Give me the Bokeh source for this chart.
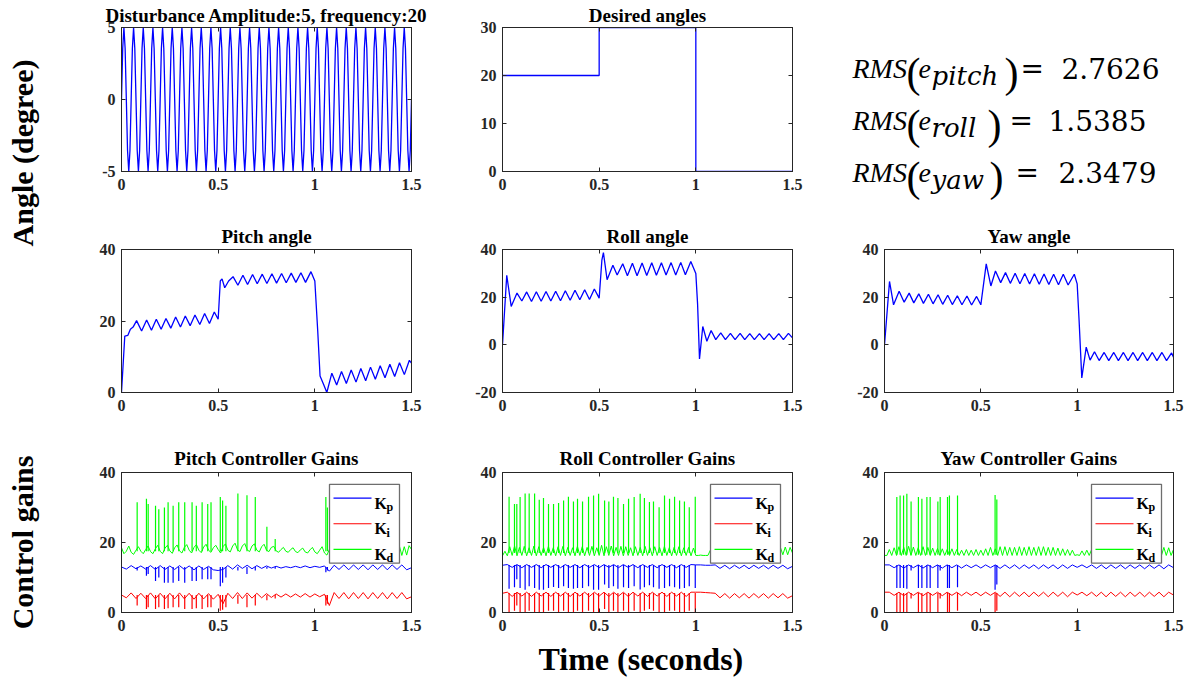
import numpy as np
from bokeh.plotting import figure
from bokeh.models import Range1d, FixedTicker, LinearAxis, Title, Label
from bokeh.layouts import row, column
from bokeh.embed import file_html
from bokeh.resources import INLINE
from bokeh.core.properties import value

FONT = "Liberation Serif"
AXC = "#262626"

# ---------------------------------------------------------------- data
x_ticks = [0, 0.5, 1, 1.5]
x_tick_labels = ["0", "0.5", "1", "1.5"]

# disturbance (amplitude 5, 20 Hz), sampled every 1/160 s
dist_step = 0.00625
dist_vals = [
    0, 3.54, 5, 3.54, 0, -3.54, -5, -3.54,
    0, 3.54, 5, 3.54, 0, -3.54, -5, -3.54,
    0, 3.54, 5, 3.54, 0, -3.54, -5, -3.54,
    0, 3.54, 5, 3.54, 0, -3.54, -5, -3.54,
    0, 3.54, 5, 3.54, 0, -3.54, -5, -3.54,
    0, 3.54, 5, 3.54, 0, -3.54, -5, -3.54,
    0, 3.54, 5, 3.54, 0, -3.54, -5, -3.54,
    0, 3.54, 5, 3.54, 0, -3.54, -5, -3.54,
    0, 3.54, 5, 3.54, 0, -3.54, -5, -3.54,
    0, 3.54, 5, 3.54, 0, -3.54, -5, -3.54,
    0, 3.54, 5, 3.54, 0, -3.54, -5, -3.54,
    0, 3.54, 5, 3.54, 0, -3.54, -5, -3.54,
    0, 3.54, 5, 3.54, 0, -3.54, -5, -3.54,
    0, 3.54, 5, 3.54, 0, -3.54, -5, -3.54,
    0, 3.54, 5, 3.54, 0, -3.54, -5, -3.54,
    0, 3.54, 5, 3.54, 0, -3.54, -5, -3.54,
    0, 3.54, 5, 3.54, 0, -3.54, -5, -3.54,
    0, 3.54, 5, 3.54, 0, -3.54, -5, -3.54,
    0, 3.54, 5, 3.54, 0, -3.54, -5, -3.54,
    0, 3.54, 5, 3.54, 0, -3.54, -5, -3.54,
    0, 3.54, 5, 3.54, 0, -3.54, -5, -3.54,
    0, 3.54, 5, 3.54, 0, -3.54, -5, -3.54,
    0, 3.54, 5, 3.54, 0, -3.54, -5, -3.54,
    0, 3.54, 5, 3.54, 0, -3.54, -5, -3.54,
    0, 3.54, 5, 3.54, 0, -3.54, -5, -3.54,
    0, 3.54, 5, 3.54, 0, -3.54, -5, -3.54,
    0, 3.54, 5, 3.54, 0, -3.54, -5, -3.54,
    0, 3.54, 5, 3.54, 0, -3.54, -5, -3.54,
    0, 3.54, 5, 3.54, 0, -3.54, -5, -3.54,
    0, 3.54, 5, 3.54, 0, -3.54, -5, -3.54,
    0]
dist_ticks = [-5, 0, 5]
dist_tick_labels = ["-5", "0", "5"]

# desired angles (step)
des_t = [0, 0.5, 1.0, 1.5]
des_v = [20, 30, 0, 0]
des_ticks = [0, 10, 20, 30]
des_tick_labels = ["0", "10", "20", "30"]

# pitch angle (peaks / troughs)
pitch_t = [0, 0.017, 0.033, 0.046, 0.06, 0.078, 0.104, 0.13, 0.155, 0.18, 0.205,
           0.23, 0.255, 0.28, 0.305, 0.33, 0.355, 0.38, 0.405, 0.43, 0.455, 0.48,
           0.5, 0.511, 0.52, 0.534, 0.554, 0.577, 0.602, 0.628, 0.652, 0.678, 0.702,
           0.728, 0.752, 0.778, 0.802, 0.828, 0.852, 0.878, 0.902, 0.928, 0.952,
           0.98, 1.0, 1.015, 1.027, 1.045, 1.062, 1.088, 1.113, 1.138, 1.163, 1.188,
           1.213, 1.238, 1.263, 1.288, 1.313, 1.338, 1.363, 1.388, 1.413, 1.438,
           1.463, 1.489, 1.5]
pitch_v = [0, 15.8, 16.0, 17.7, 18.3, 20.1, 17.2, 20.3, 17.4, 20.5, 17.7,
           20.7, 18.0, 21.1, 18.3, 21.4, 18.7, 21.7, 19.0, 22.1, 19.3, 22.5,
           20.5, 31.2, 31.8, 29.3, 31.2, 32.4, 30.0, 32.8, 30.2, 33.0, 30.4,
           33.1, 30.5, 33.2, 30.6, 33.3, 30.7, 33.4, 30.8, 33.5, 30.8,
           33.8, 31.2, 17.2, 4.6, 2.3, 0.0, 5.4, 2.1, 5.9, 2.5, 6.3,
           2.9, 6.7, 3.3, 7.1, 3.7, 7.5, 4.1, 7.9, 4.5, 8.3,
           5.0, 9.0, 8.2]
pitch_ticks = [0, 20, 40]
pitch_tick_labels = ["0", "20", "40"]

roll_t = [0, 0.022, 0.045, 0.075, 0.1, 0.125, 0.15, 0.175, 0.2, 0.225, 0.25, 0.275,
          0.3, 0.325, 0.35, 0.375, 0.4, 0.425, 0.45, 0.475, 0.5, 0.514, 0.522, 0.541,
          0.571, 0.593, 0.622, 0.646, 0.672, 0.696, 0.722, 0.746, 0.772, 0.796, 0.822,
          0.846, 0.872, 0.896, 0.922, 0.946, 0.974, 1.0, 1.009, 1.019, 1.036, 1.057,
          1.079, 1.103, 1.129, 1.153, 1.179, 1.203, 1.229, 1.253, 1.279, 1.303, 1.329,
          1.353, 1.379, 1.403, 1.429, 1.453, 1.479, 1.5]
roll_v = [0, 29.2, 16.1, 21.7, 18.4, 22.2, 18.2, 22.3, 18.3, 22.4, 18.4, 22.5,
          18.5, 22.7, 18.7, 22.9, 18.9, 23.1, 19.0, 23.4, 19.6, 35.5, 38.7, 27.3,
          33.4, 29.3, 34.0, 29.0, 34.2, 29.0, 34.3, 29.1, 34.4, 29.2, 34.4,
          29.3, 34.5, 29.3, 34.6, 29.4, 35.0, 29.9, 17.2, -5.9, 7.7, 1.5,
          6.0, 2.2, 5.0, 2.2, 4.8, 2.2, 4.8, 2.2, 4.7, 2.2, 4.7,
          2.2, 4.7, 2.2, 4.7, 2.2, 4.8, 2.9]

yaw_t = [0, 0.026, 0.047, 0.076, 0.102, 0.128, 0.152, 0.178, 0.202, 0.228, 0.252,
         0.278, 0.302, 0.328, 0.352, 0.378, 0.402, 0.428, 0.452, 0.478, 0.5, 0.528,
         0.552, 0.576, 0.603, 0.628, 0.653, 0.678, 0.703, 0.728, 0.753, 0.778, 0.803,
         0.828, 0.853, 0.878, 0.903, 0.928, 0.953, 0.985, 1.0, 1.01, 1.024, 1.047,
         1.067, 1.09, 1.114, 1.14, 1.164, 1.19, 1.214, 1.24, 1.264, 1.29, 1.314,
         1.34, 1.364, 1.39, 1.414, 1.44, 1.464, 1.49, 1.5]
yaw_v = [0, 26.6, 16.8, 22.5, 17.9, 21.7, 17.6, 21.4, 17.4, 21.2, 17.2,
         21.0, 17.0, 20.8, 16.9, 20.6, 16.8, 20.5, 16.7, 20.3, 16.8, 34.0,
         24.7, 31.0, 26.1, 30.3, 25.8, 30.0, 25.6, 29.9, 25.5, 29.8, 25.4,
         29.7, 25.3, 29.6, 25.2, 29.6, 25.1, 29.6, 25.6, 10.2, -13.9, -1.0,
         -6.4, -2.9, -6.6, -3.2, -6.6, -3.2, -6.6, -3.2, -6.6, -3.2, -6.6,
         -3.2, -6.6, -3.2, -6.6, -3.2, -6.6, -3.4, -5.2]
ry_ticks = [-20, 0, 20, 40]
ry_tick_labels = ["-20", "0", "20", "40"]

# controller gains: baselines (Kd every 0.0125 s, Kp/Ki every 0.025 s) + spikes
kd_step = 0.0125
kpi_step = 0.025
gain_ticks = [0, 20, 40]
gain_tick_labels = ["0", "20", "40"]

pitch_kd = [18.5, 16.8, 17.5, 19.0, 17.2, 16.6, 17.8, 18.8,
            17.5, 16.8, 18.0, 19.0, 17.4, 16.8, 18.2, 19.2,
            17.5, 16.8, 18.4, 19.2, 17.6, 16.9, 18.5, 19.3,
            17.6, 17.0, 18.6, 19.4, 17.8, 17.0, 18.6, 19.4,
            17.8, 17.1, 18.7, 19.5, 17.8, 17.2, 18.5, 19.2,
            18.0, 17.0, 18.8, 19.6, 17.8, 17.3, 19.0, 19.8,
            17.9, 17.4, 19.0, 19.7, 17.9, 17.4, 19.0, 19.6,
            17.8, 17.3, 18.8, 19.5, 17.8, 17.4, 18.6, 18.9,
            17.6, 17.2, 18.0, 18.6, 17.5, 17.2, 18.0, 18.5,
            17.4, 17.1, 17.9, 18.4, 17.3, 17.0, 17.9, 18.6,
            17.3, 16.8, 17.8, 18.8, 17.0, 16.4, 18.0, 19.0,
            16.3, 18.9, 16.4, 19.0, 16.3, 18.8, 16.4, 19.1,
            16.3, 18.9, 16.4, 19.0, 16.3, 18.8, 16.4, 19.1,
            16.3, 18.9, 16.4, 19.0, 16.3, 18.8, 16.4, 19.1,
            16.3, 18.9, 16.4, 19.0, 16.3, 18.8, 16.4, 19.1,
            18.0]
pitch_kp = [13.0, 12.4, 13.4, 12.5, 13.3, 12.4, 13.4, 12.3, 13.4, 12.3,
            13.3, 12.3, 13.4, 12.3, 13.3, 12.2, 13.3, 12.3, 13.2, 12.2,
            12.0, 12.3, 13.4, 12.4, 13.6, 12.6, 13.5, 12.5, 13.4, 12.6,
            13.3, 12.7, 13.2, 12.7, 13.1, 12.8, 13.2, 12.8, 13.3, 12.8,
            13.2, 12.9, 13.3, 11.8, 13.5, 12.3, 13.6, 12.2, 13.6, 12.3,
            13.6, 12.2, 13.6, 12.3, 13.6, 12.2, 13.6, 12.3, 13.6, 12.2,
            12.8]
pitch_ki = [5.0, 4.2, 5.6, 4.0, 5.5, 4.0, 5.6, 3.9, 5.5, 3.9,
            5.5, 3.9, 5.6, 3.9, 5.5, 3.8, 5.5, 3.9, 5.4, 3.8,
            5.2, 2.5, 5.5, 4.0, 5.7, 4.0, 5.6, 4.1, 5.5, 4.2,
            5.4, 4.3, 5.3, 4.4, 5.3, 4.4, 5.3, 4.4, 5.4, 4.4,
            5.3, 4.5, 5.2, 2.0, 5.7, 4.0, 5.7, 3.9, 5.7, 4.0,
            5.7, 3.9, 5.7, 4.0, 5.7, 3.9, 5.7, 4.0, 5.7, 3.9,
            4.5]
pitch_spike_t = [0.081, 0.129, 0.138, 0.176, 0.193, 0.222, 0.241, 0.267, 0.296,
                 0.327, 0.365, 0.387, 0.417, 0.446, 0.463, 0.511, 0.523, 0.540,
                 0.602, 0.649, 0.692, 0.752, 0.795, 1.057, 1.065]
pitch_kd_peak = [31.5, 32.5, 31, 30.5, 29.5, 30, 31.5, 30.5, 31.5,
                 31.5, 31.5, 30.5, 31.5, 31, 31.5, 33, 32, 30.5,
                 34, 33.5, 33, 24.5, 21, 33, 30]
pitch_kp_dip = [12, 10.5, 11, 9, 10, 8.5, 8.5, 8.5, 9,
                8.5, 9, 9, 9.5, 9.5, 9.5, 7.5, 8.5, 10,
                12, 11, 12, 12.5, 12.5, 11.5, 12]
pitch_ki_dip = [2, 1, 1.5, 1, 1.5, 1, 1.2, 1.5, 1.5,
                1, 1, 1.2, 1, 1.5, 1.5, 0.5, 0.8, 1.5,
                2.5, 1.5, 2, 3.5, 4, 2, 2.5]
pitch_gain_levels = [17.5, 13.0, 5.0]   # Kd, Kp, Ki levels the spikes leave from

roll_kd = [16.2, 17.5, 16.2, 18.8, 16.3, 19.0, 16.2, 18.6,
           16.3, 18.9, 16.2, 18.5, 16.3, 19.0, 16.2, 18.8,
           16.3, 18.6, 16.2, 18.9, 16.3, 18.5, 16.2, 18.8,
           16.3, 18.9, 16.2, 18.6, 16.3, 18.5, 16.2, 18.9,
           16.3, 18.8, 16.2, 18.6, 16.3, 18.9, 16.2, 18.5,
           16.3, 19.2, 16.2, 18.8, 16.3, 19.0, 16.2, 18.6,
           16.3, 18.9, 16.2, 18.8, 16.3, 18.5, 16.2, 18.8,
           16.3, 18.6, 16.2, 18.9, 16.3, 18.5, 16.2, 18.8,
           16.3, 18.6, 16.2, 18.9, 16.3, 18.5, 16.2, 18.6,
           16.3, 18.8, 16.2, 18.5, 16.3, 18.6, 16.2, 18.4,
           16.3, 16.3, 16.4, 16.3, 16.3, 16.3, 17.8, 16.4,
           16.5, 18.3, 16.4, 18.5, 16.5, 18.4, 16.5, 18.6,
           16.5, 18.5, 16.4, 18.6, 16.5, 18.4, 16.5, 18.6,
           16.5, 18.5, 16.4, 18.6, 16.5, 18.4, 16.5, 18.6,
           16.5, 18.5, 16.4, 18.6, 16.5, 18.7, 16.5, 18.6,
           17.0]
roll_kp = [13.5, 13.7, 12.9, 13.7, 12.8, 13.7, 12.9, 13.7, 12.8, 13.7,
           12.9, 13.7, 12.8, 13.7, 12.9, 13.7, 12.8, 13.7, 12.9, 13.7,
           12.8, 13.7, 12.9, 13.7, 12.8, 13.7, 12.9, 13.7, 12.8, 13.7,
           12.9, 13.7, 12.8, 13.7, 12.9, 13.7, 12.8, 13.7, 12.9, 13.7,
           13.6, 13.6, 13.5, 13.5, 13.6, 12.6, 13.5, 12.5, 13.5, 12.6,
           13.5, 12.5, 13.5, 12.6, 13.5, 12.5, 13.5, 12.6, 13.5, 12.5,
           13.2]
roll_ki = [5.5, 5.8, 4.6, 5.8, 4.7, 5.8, 4.6, 5.8, 4.7, 5.8,
           4.6, 5.8, 4.7, 5.8, 4.6, 5.8, 4.7, 5.8, 4.6, 5.8,
           4.7, 5.8, 4.6, 5.8, 4.7, 5.8, 4.6, 5.8, 4.7, 5.8,
           4.6, 5.8, 4.7, 5.8, 4.6, 5.8, 4.7, 5.8, 4.6, 5.8,
           5.8, 5.8, 5.7, 5.6, 5.5, 4.2, 5.4, 4.1, 5.4, 4.2,
           5.4, 4.1, 5.4, 4.2, 5.4, 4.1, 5.4, 4.2, 5.4, 4.1,
           4.8]
roll_spike_t = [0.034, 0.062, 0.074, 0.091, 0.117, 0.138, 0.166, 0.19, 0.212, 0.238,
                0.264, 0.29, 0.316, 0.341, 0.367, 0.388, 0.414, 0.445, 0.471, 0.497,
                0.528, 0.55, 0.574, 0.597, 0.626, 0.652, 0.681, 0.712, 0.734, 0.76,
                0.781, 0.81, 0.838, 0.864, 0.89, 0.916, 0.941, 0.966, 0.997]
roll_kd_peak = [33.1, 31, 31, 33, 34, 34, 34, 32.2, 32.7, 31,
                31, 31.3, 32, 33.1, 31.7, 32.5, 31.7, 33.1, 33.4, 33.9,
                32, 31.7, 33.1, 32.7, 31, 32.5, 33, 33.9, 32.7, 31.6,
                31.7, 30.1, 33.4, 32.5, 33.1, 32, 31.7, 30.1, 33.1]
roll_kp_dip = [6.8, 7.2, 9.5, 7, 6.5, 7.5, 7, 6.5, 6.5, 7,
               7.3, 7, 7.5, 7, 6.8, 7, 7, 7.5, 6.5, 6.5,
               8, 7, 7.5, 6.8, 7.2, 7, 7.5, 6.6, 7.2, 7.8,
               7.2, 6.8, 7, 7.5, 7.2, 6.8, 7, 7.5, 7]
roll_ki_dip = [0, 0.5, 2, 0, 0, 0.5, 0, 0, 0, 0.5,
               0.5, 0, 0.5, 0, 0, 0.5, 0, 0.5, 0, 0,
               1, 0, 0.5, 0, 0.5, 0, 0.5, 0, 0.5, 1,
               0.5, 0, 0, 0.5, 0.5, 0, 0, 0.5, 0]
roll_gain_levels = [17.0, 13.6, 5.6]

yaw_kd = [16.3, 16.3, 18.0, 16.3, 18.5, 16.3, 18.8, 16.3,
          18.6, 16.3, 18.9, 16.3, 18.7, 16.3, 18.5, 16.3,
          18.8, 16.3, 18.6, 16.3, 18.4, 16.3, 18.3, 16.3,
          18.2, 16.3, 18.0, 16.3, 18.2, 16.3, 18.0, 16.3,
          17.8, 16.3, 18.0, 16.3, 17.8, 16.3, 18.0, 16.3,
          17.8, 16.3, 18.2, 16.3, 18.6, 16.3, 18.2, 16.3,
          18.8, 16.3, 18.8, 16.3, 18.6, 16.3, 18.6, 16.3,
          18.8, 16.3, 18.6, 16.3, 18.8, 16.3, 18.6, 16.3,
          18.8, 16.3, 18.8, 16.3, 18.6, 16.3, 18.6, 16.3,
          18.4, 16.3, 18.2, 16.3, 18.0, 16.3, 17.8, 16.3,
          16.5, 16.3, 17.6, 16.3, 17.8, 16.3, 18.0, 16.3,
          18.3, 16.3, 18.4, 16.3, 18.5, 16.3, 18.5, 16.3,
          18.6, 16.3, 18.6, 16.3, 18.5, 16.3, 18.5, 16.3,
          18.6, 16.3, 18.5, 16.3, 18.6, 16.3, 18.5, 16.3,
          18.6, 16.3, 18.6, 16.3, 18.6, 16.3, 18.5, 16.3,
          18.0]
yaw_kp = [13.6, 13.6, 12.8, 13.6, 12.7, 13.6, 12.8, 13.6, 12.7, 13.6,
          12.8, 13.6, 12.7, 13.6, 12.8, 13.6, 12.7, 13.6, 12.8, 13.6,
          12.7, 13.6, 12.8, 13.6, 12.6, 13.6, 12.6, 13.6, 12.5, 13.6,
          12.6, 13.6, 12.5, 13.6, 12.6, 13.6, 12.5, 13.6, 12.6, 13.6,
          12.9, 13.6, 12.8, 13.6, 12.6, 13.6, 12.5, 13.6, 12.6, 13.6,
          12.5, 13.6, 12.6, 13.6, 12.5, 13.6, 12.6, 13.6, 12.5, 13.6,
          12.8]
yaw_ki = [5.8, 5.8, 4.9, 5.8, 4.8, 5.8, 4.9, 5.8, 4.8, 5.8,
          4.9, 5.8, 4.8, 5.8, 4.9, 5.8, 4.8, 5.8, 4.9, 5.8,
          4.8, 5.8, 4.9, 5.8, 4.6, 5.8, 4.5, 5.8, 4.6, 5.8,
          4.5, 5.8, 4.6, 5.8, 4.5, 5.8, 4.6, 5.8, 4.5, 5.8,
          5.0, 5.8, 4.8, 5.8, 4.6, 5.8, 4.5, 5.8, 4.6, 5.8,
          4.5, 5.8, 4.6, 5.8, 4.5, 5.8, 4.6, 5.8, 4.5, 5.8,
          5.0]
yaw_spike_t = [0.064, 0.081, 0.099, 0.116, 0.138, 0.176, 0.194, 0.22, 0.237,
               0.277, 0.289, 0.327, 0.337, 0.379, 0.574, 0.583]
yaw_kd_peak = [33, 33.4, 33.4, 33.9, 31.7, 33, 32.5, 33, 33,
               31.7, 33, 33, 33.4, 33.4, 33.6, 32.3]
yaw_kp_dip = [7, 7, 7, 6.8, 12, 7, 7, 7, 7, 7, 12, 7, 7, 7.2, 6.5, 8]
yaw_ki_dip = [0, 0, 0, 0, 4, 0, 0, 0, 0, 0, 4, 0, 0, 0.5, 0, 0.5]
yaw_gain_levels = [16.5, 13.6, 5.6]

rms_names = ["pitch", "roll", "yaw"]
rms_values = ["2.7626", "1.5385", "2.3479"]

# ---------------------------------------------------------------- helpers
def mirror_axis(ticks):
    return LinearAxis(ticker=FixedTicker(ticks=ticks),
                      major_label_overrides={t: "" for t in ticks},
                      major_label_text_font_size="1px", major_label_standoff=0,
                      major_tick_in=4, major_tick_out=0, minor_tick_in=0,
                      minor_tick_out=0, axis_line_color=AXC, major_tick_line_color=AXC)


def panel(w, h, bl, br, bt, bb, yr, yticks, ylabels, title, title_standoff, tsize="19px"):
    p = figure(width=w, height=h, x_range=Range1d(0, 1.5), y_range=Range1d(*yr),
               output_backend="svg", toolbar_location=None, title=title,
               min_border_left=bl, min_border_right=br,
               min_border_top=bt, min_border_bottom=bb)
    p.grid.visible = False
    p.outline_line_color = AXC
    p.outline_line_width = 1
    p.title.text_font = FONT
    p.title.text_font_size = tsize
    p.title.text_font_style = "bold"
    p.title.text_color = "black"
    p.title.align = "center"
    p.title.standoff = title_standoff
    p.xaxis.ticker = FixedTicker(ticks=x_ticks)
    p.xaxis.major_label_overrides = dict(zip(x_ticks, x_tick_labels))
    p.yaxis.ticker = FixedTicker(ticks=yticks)
    p.yaxis.major_label_overrides = dict(zip(yticks, ylabels))
    for ax in (p.xaxis[0], p.yaxis[0]):
        ax.major_label_text_font = FONT
        ax.major_label_text_font_size = "16px"
        ax.major_label_text_font_style = "bold"
        ax.major_label_text_color = AXC
        ax.major_tick_in = 4
        ax.major_tick_out = 0
        ax.minor_tick_in = 0
        ax.minor_tick_out = 0
        ax.axis_line_color = AXC
        ax.major_tick_line_color = AXC
    p.xaxis[0].major_label_standoff = 7
    p.yaxis[0].major_label_standoff = 6
    p.add_layout(mirror_axis(x_ticks), "above")
    p.add_layout(mirror_axis(yticks), "right")
    return p


def blank(w, h, xr, yr):
    p = figure(width=w, height=h, x_range=Range1d(*xr), y_range=Range1d(*yr),
               x_axis_type=None, y_axis_type=None,
               output_backend="svg", toolbar_location=None, min_border=0)
    p.title.visible = False
    p.grid.visible = False
    p.outline_line_color = None
    return p


H1, H2, H3 = 221, 221, 244


def gains_panel(w, bl, br, title, kd, kp, ki, spike_t, kd_peak, kp_dip, ki_dip, levels):
    bt, bb = 28, 74
    p = panel(w, H3, bl, br, bt, bb, (0, 40), gain_ticks, gain_tick_labels, title, 7)
    fw = w - bl - br
    fh = H3 - bt - bb
    t_kd = np.arange(len(kd)) * kd_step
    t_kpi = np.arange(len(kp)) * kpi_step
    n = len(spike_t)
    p.line(t_kpi, kp, line_color="#0000ff", line_width=1.0)
    p.segment(x0=spike_t, y0=[levels[1]] * n, x1=spike_t, y1=kp_dip,
              line_color="#0000ff", line_width=1.2)
    p.line(t_kpi, ki, line_color="#ff0000", line_width=1.0)
    p.segment(x0=spike_t, y0=[levels[2]] * n, x1=spike_t, y1=ki_dip,
              line_color="#ff0000", line_width=1.2)
    p.line(t_kd, kd, line_color="#00ff00", line_width=1.0)
    p.segment(x0=spike_t, y0=[levels[0]] * n, x1=spike_t, y1=kd_peak,
              line_color="#00ff00", line_width=1.2)

    # legend (positions in frame pixels converted to data units)
    def dx(px):
        return px * 1.5 / fw

    def dy(py):
        return 40 - py * 40.0 / fh

    bl_px = fw - 12 - 70
    p.quad(left=[dx(bl_px)], right=[dx(bl_px + 70)], top=[dy(12)], bottom=[dy(92)],
           fill_color="white", line_color="#6e6e6e", line_width=1.3)
    names = ["p", "i", "d"]
    colors = ["#0000ff", "#ff0000", "#00ff00"]
    rows_px = [26, 52, 78]
    for nm, c, ry in zip(names, colors, rows_px):
        p.line([dx(bl_px + 4), dx(bl_px + 42)], [dy(ry), dy(ry)], line_color=c, line_width=1.2)
        p.text(x=[dx(bl_px + 45)], y=[dy(ry + 5)], text=["K"], text_font=value(FONT),
               text_font_size="16px", text_font_style="bold", text_color="black",
               text_baseline="alphabetic", text_align="left")
        p.text(x=[dx(bl_px + 57)], y=[dy(ry + 9)], text=[nm], text_font=value(FONT),
               text_font_size="12px", text_font_style="bold", text_color="black",
               text_baseline="alphabetic", text_align="left")
    return p


# ---------------------------------------------------------------- row 1
W1, W3 = 381, 357
p_dist = panel(W1, H1, 53, 38, 27, 50, (-5, 5), dist_ticks, dist_tick_labels,
               "Disturbance Amplitude:5, frequency:20", 3, "19px")
p_dist.line(np.arange(len(dist_vals)) * dist_step, dist_vals, line_color="#0000ff", line_width=1.3)

p_des = panel(W1, H1, 53, 38, 27, 50, (0, 30), des_ticks, des_tick_labels,
              "Desired angles", 3)
p_des.step(des_t, des_v, mode="after", line_color="#0000ff", line_width=1.3)

# RMS text block (wrapped in its own column so that its frame is the full figure);
# ranges are in page pixels: x 830..1187, y 221 at bottom, 0 at top
p_rms = blank(W3, H1, (830, 830 + W3), (H1, 0))
rms_base = [68, 120, 172]                 # baselines (page y)
close_px = [1004, 987, 989]
eq_px = [1020, 1009, 1015]
num_px = [1061, 1048, 1058]


def rms_label(x, y, txt, font, size, style="normal"):
    p_rms.add_layout(Label(x=x, y=y, text=txt, text_font=font, text_font_size=size,
                           text_font_style=style, text_color="black",
                           text_baseline="alphabetic", text_align="left"))


for i, (name, val) in enumerate(zip(rms_names, rms_values)):
    by = rms_base[i]
    rms_label(852, by, "RMS", FONT, "28px", "italic")
    rms_label(906, by + 4, "(", FONT, "42px")
    rms_label(918, by, "e", FONT, "28px", "italic")
    rms_label(931, by + 7, name, "DejaVu Serif", "26px", "italic")
    rms_label(close_px[i], by + 4, ")", FONT, "42px")
    rms_label(eq_px[i], by, "=", "DejaVu Serif", "28px")
    rms_label(num_px[i], by, val, "DejaVu Serif", "28px")

# ---------------------------------------------------------------- row 2
p_pitch = panel(W1, H2, 53, 38, 27, 50, (0, 40), pitch_ticks, pitch_tick_labels, "Pitch angle", 5)
p_pitch.line(pitch_t, pitch_v, line_color="#0000ff", line_width=1.3)
p_roll = panel(W1, H2, 53, 38, 27, 50, (-20, 40), ry_ticks, ry_tick_labels, "Roll angle", 5)
p_roll.line(roll_t, roll_v, line_color="#0000ff", line_width=1.3)
p_yaw = panel(W3, H2, 54, 14, 27, 50, (-20, 40), ry_ticks, ry_tick_labels, "Yaw angle", 5)
p_yaw.line(yaw_t, yaw_v, line_color="#0000ff", line_width=1.3)

# ---------------------------------------------------------------- row 3
g_pitch = gains_panel(W1, 53, 38, "Pitch Controller Gains", pitch_kd, pitch_kp, pitch_ki,
                      pitch_spike_t, pitch_kd_peak, pitch_kp_dip, pitch_ki_dip, pitch_gain_levels)
g_roll = gains_panel(W1, 53, 38, "Roll Controller Gains", roll_kd, roll_kp, roll_ki,
                     roll_spike_t, roll_kd_peak, roll_kp_dip, roll_ki_dip, roll_gain_levels)
g_yaw = gains_panel(W3, 54, 14, "Yaw Controller Gains", yaw_kd, yaw_kp, yaw_ki,
                    yaw_spike_t, yaw_kd_peak, yaw_kp_dip, yaw_ki_dip, yaw_gain_levels)
g_roll.add_layout(Title(text="Time (seconds)", align="left", offset=36, standoff=15,
                        vertical_align="top",
                        text_font=FONT, text_font_size="32px", text_font_style="bold",
                        text_color="black"), "below")

# ---------------------------------------------------------------- side labels
HT = H1 + H2 + H3
side = blank(68, HT, (0, 68), (0, HT))
side.text(x=[22, 22], y=[HT - 152.5, HT - 542], text=["Angle (degree)", "Control gains"],
          angle=np.pi / 2, text_font=value(FONT), text_font_size="30px",
          text_font_style="bold", text_color="black", text_align="center",
          text_baseline="alphabetic")

grid = column(row(p_dist, p_des, column(p_rms)), row(p_pitch, p_roll, p_yaw),
              row(g_pitch, g_roll, g_yaw))
layout = row(side, grid)

open("out.html", "w").write(file_html(layout, INLINE))
